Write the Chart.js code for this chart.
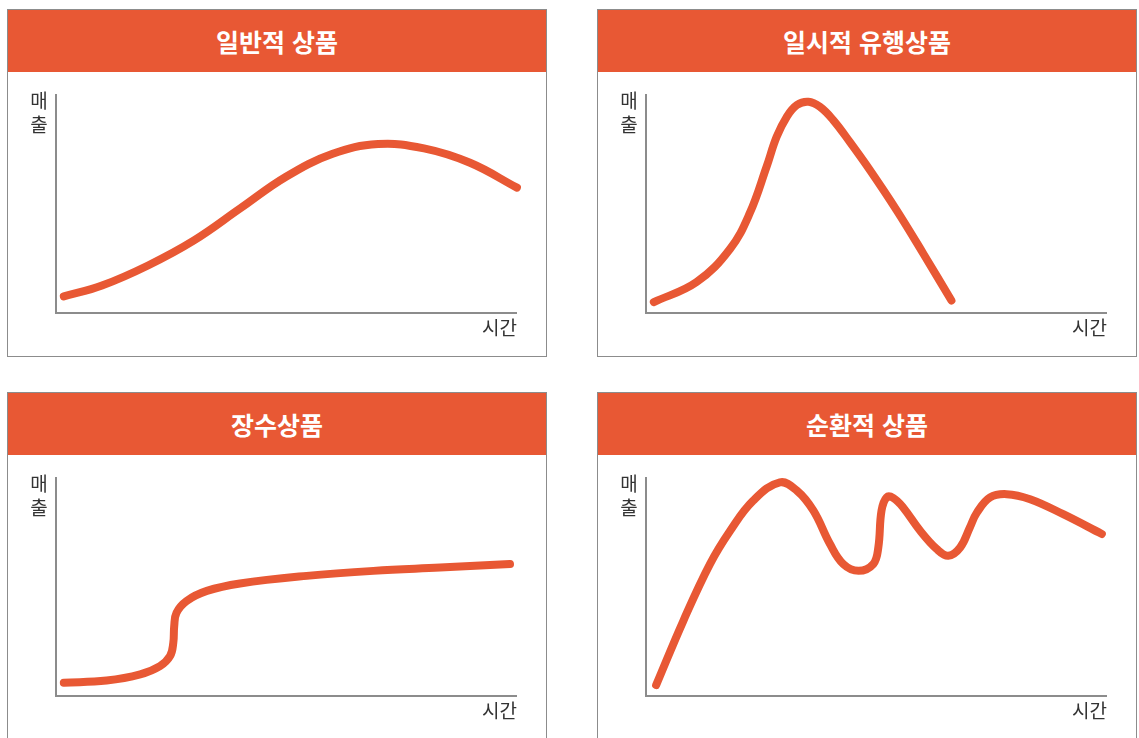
<!DOCTYPE html>
<html lang="ko">
<head>
<meta charset="utf-8">
<title>제품 수명주기 유형</title>
<script src="https://cdn.jsdelivr.net/npm/chart.js@4"></script>
<style>
  html, body { margin: 0; padding: 0; background: #fff; }
  body { width: 1139px; height: 738px; position: relative; overflow: hidden;
         font-family: "Noto Sans CJK KR", "Noto Sans", sans-serif; }
  .panel { position: absolute; width: 540px; height: 348px; box-sizing: border-box;
           border: 1px solid #8c8c8c; background: #fff; }
  .panel .head { position: absolute; left: 0; top: 0; right: 0; height: 62px;
                 background: #e85834; color: #fff; font-weight: 700; font-size: 25px;
                 line-height: 62px; text-align: center; }
  .panel .body { position: absolute; left: 0; top: 62px; width: 538px; height: 284px; }
  .panel canvas { position: absolute; left: 0; top: 0; }
  .ylab { position: absolute; left: 21px; top: 16px; font-size: 19px; line-height: 24px;
          color: #333; width: 20px; text-align: center; }
  .xlab { position: absolute; right: 29px; top: 244px; font-size: 19px; line-height: 22px; color: #333; }
</style>
</head>
<body>
<script>
// Panel titles
const titles = ['일반적 상품', '일시적 유행상품', '장수상품', '순환적 상품'];
const yLabel = ['매', '출'];
const xLabel = '시간';

// 일반적 상품 (x, y as % of axis length)
const generalX = [1.7, 10, 20, 30, 40, 50, 60, 70, 80, 90, 100.2];
const generalY = [7.6, 12.6, 21.8, 33.3, 47.9, 62.5, 72.9, 77.5, 75.5, 68.9, 57.5];

// 일시적 유행상품
const fadX = [1.7, 11.0, 18.3, 22.6, 26.2, 28.4, 30.6, 32.8, 35.3, 37.8, 40.7, 44.3, 48.7, 54.5, 60.3, 66.4];
const fadY = [5.0, 14.2, 29.5, 46.0, 67.0, 80.8, 90.0, 95.4, 96.9, 94.6, 88.5, 78.5, 65.5, 47.1, 27.2, 5.7];

// 장수상품
const longX = [1.7, 11.0, 18.3, 22.6, 24.8, 25.5, 25.7, 26.2, 28.4, 32.8, 40.0, 54.5, 69.0, 83.5, 98.7];
const longY = [6.1, 7.1, 9.9, 13.7, 18.3, 24.4, 32.1, 38.2, 43.6, 48.2, 51.6, 55.1, 57.4, 58.9, 60.5];

// 순환적 상품
const cycleX = [2.2, 8.1, 13.9, 18.3, 23.3, 29.1, 32.8, 36.4, 40.0, 42.9, 46.2, 49.4, 50.5, 51.2, 52.3, 53.8, 55.9,
                59.6, 63.2, 65.7, 68.3, 70.4, 71.9, 74.8, 78.4, 83.5, 90.7, 99.1];
const cycleY = [5.0, 34.4, 60.5, 75.8, 89.6, 98.0, 94.2, 85.0, 69.7, 60.5, 57.4, 60.5, 68.1, 85.0, 91.1, 90.8, 86.5,
                75.8, 67.4, 64.3, 68.1, 77.3, 84.0, 91.1, 92.6, 90.3, 83.4, 74.3];

const panelPos = [[7, 9], [597, 9], [7, 392], [597, 392]];
const series = [[generalX, generalY], [fadX, fadY], [longX, longY], [cycleX, cycleY]];

const lineColor = '#e85834';
const axisColor = '#8c8c8c';

function buildPanel(i) {
  const panel = document.createElement('div');
  panel.className = 'panel';
  panel.style.left = panelPos[i][0] + 'px';
  panel.style.top = panelPos[i][1] + 'px';

  const head = document.createElement('div');
  head.className = 'head';
  head.textContent = titles[i];
  panel.appendChild(head);

  const body = document.createElement('div');
  body.className = 'body';
  const canvas = document.createElement('canvas');
  canvas.width = 538;
  canvas.height = 284;
  body.appendChild(canvas);

  const yl = document.createElement('div');
  yl.className = 'ylab';
  yl.innerHTML = yLabel.join('<br>');
  body.appendChild(yl);

  const xl = document.createElement('div');
  xl.className = 'xlab';
  xl.textContent = xLabel;
  body.appendChild(xl);

  panel.appendChild(body);
  document.body.appendChild(panel);

  const [xs, ys] = series[i];
  new Chart(canvas.getContext('2d'), {
    type: 'line',
    data: {
      datasets: [{
        data: xs.map((x, k) => ({ x, y: ys[k] })),
        borderColor: lineColor,
        borderWidth: 8,
        borderCapStyle: 'round',
        borderJoinStyle: 'round',
        tension: 0.4,
        pointRadius: 0,
        fill: false,
        clip: false,
      }]
    },
    options: {
      responsive: false,
      animation: false,
      layout: { padding: { left: 48, top: 23, right: 30, bottom: 43 } },
      scales: {
        x: {
          type: 'linear', min: 0, max: 100,
          grid: { display: false, drawTicks: false },
          ticks: { display: false },
          border: { display: true, color: axisColor, width: 2 }
        },
        y: {
          type: 'linear', min: 0, max: 100,
          grid: { display: false, drawTicks: false },
          ticks: { display: false },
          border: { display: true, color: axisColor, width: 2 }
        }
      },
      plugins: {
        legend: { display: false },
        tooltip: { enabled: false }
      }
    }
  });
}

for (let i = 0; i < 4; i++) {
  buildPanel(i);
}
</script>
</body>
</html>
